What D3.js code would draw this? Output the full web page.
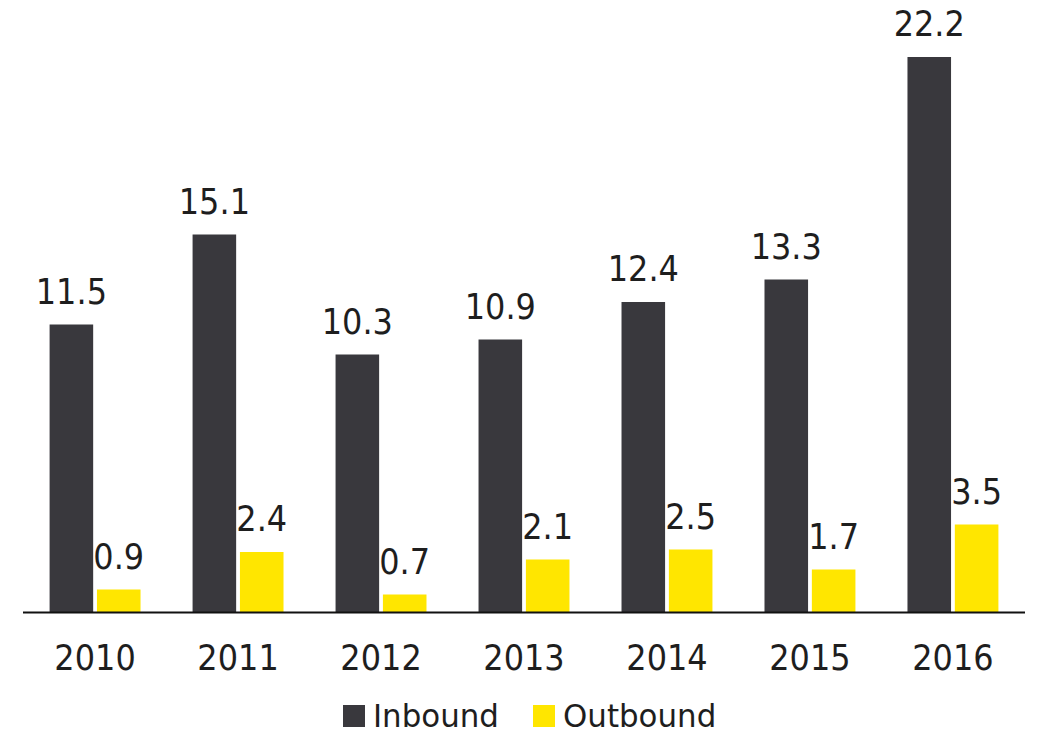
<!DOCTYPE html>
<html lang="en">
<head>
    <meta charset="UTF-8">
    <title>Inbound vs Outbound</title>
    <script src="https://d3js.org/d3.v7.min.js"></script>
    <style>
        body {
            margin: 0;
            padding: 0;
            background: #fff;
            overflow: hidden;
        }
        text {
            font-family: "DejaVu Sans", Verdana, sans-serif;
            fill: #1e1e1e;
        }
    </style>
</head>
<body>
    <div id="chart"></div>

    <script>
        // Data
        const years = ["2010", "2011", "2012", "2013", "2014", "2015", "2016"];
        const inbound = [11.5, 15.1, 10.3, 10.9, 12.4, 13.3, 22.2];
        const outbound = [0.9, 2.4, 0.7, 2.1, 2.5, 1.7, 3.5];
        const seriesNames = ["Inbound", "Outbound"];
        const colors = ["#39383d", "#ffe600"];

        const width = 1038;
        const height = 737;
        const baseline = 612;

        const svg = d3.select("#chart").append("svg")
            .attr("width", width)
            .attr("height", height);

        // Scales
        const x0 = d3.scaleBand()
            .domain(years)
            .range([23, 1025])
            .paddingInner(0.364)
            .paddingOuter(0.186);

        const x1 = d3.scaleBand()
            .domain(seriesNames)
            .range([0, x0.bandwidth()])
            .paddingInner(0.08);

        const y = d3.scaleLinear()
            .domain([0, 22.2])
            .range([baseline, 57]);

        const rows = years.map((yr, i) => ({
            year: yr,
            values: [
                { name: "Inbound", value: inbound[i] },
                { name: "Outbound", value: outbound[i] }
            ]
        }));

        // Bars
        const group = svg.append("g")
            .selectAll("g")
            .data(rows)
            .enter().append("g")
            .attr("transform", d => `translate(${x0(d.year)},0)`);

        group.selectAll("rect")
            .data(d => d.values)
            .enter().append("rect")
            .attr("x", d => x1(d.name))
            .attr("y", d => y(d.value))
            .attr("width", x1.bandwidth())
            .attr("height", d => baseline - y(d.value))
            .attr("fill", (d, i) => colors[i]);

        // Value labels
        group.selectAll("text")
            .data(d => d.values)
            .enter().append("text")
            .attr("text-anchor", "middle")
            .attr("transform", d => `translate(${x1(d.name) + x1.bandwidth() / 2},${y(d.value) - 21}) scale(1,1.12)`)
            .style("font-size", "32px")
            .text(d => d.value.toFixed(1));

        // Axis line
        svg.append("line")
            .attr("x1", 23)
            .attr("x2", 1025)
            .attr("y1", baseline + 0.5)
            .attr("y2", baseline + 0.5)
            .attr("stroke", "#111")
            .attr("stroke-width", 2);

        // Year labels
        svg.append("g")
            .selectAll("text")
            .data(years)
            .enter().append("text")
            .attr("text-anchor", "middle")
            .attr("transform", d => `translate(${x0(d) + x0.bandwidth() / 2},670) scale(1,1.12)`)
            .style("font-size", "32px")
            .text(d => d);

        // Legend
        const legendX = [343, 533];
        const legend = svg.append("g")
            .selectAll("g")
            .data(seriesNames)
            .enter().append("g")
            .attr("transform", (d, i) => `translate(${legendX[i]},705)`);

        legend.append("rect")
            .attr("width", 22)
            .attr("height", 22)
            .attr("fill", (d, i) => colors[i]);

        legend.append("text")
            .attr("transform", "translate(30,22) scale(1.03,1.05)")
            .style("font-size", "30px")
            .text(d => d);
    </script>
</body>
</html>
